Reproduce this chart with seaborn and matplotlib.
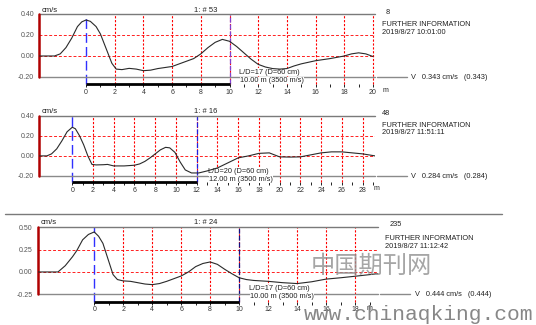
import matplotlib
matplotlib.use("Agg")
import matplotlib.pyplot as plt
from matplotlib.lines import Line2D
import seaborn as sns
import pandas as pd

# ---------------- data ----------------
p1_x = [-3.28, -2.2, -1.8, -1.4, -1.0, -0.6, -0.3, 0.0, 0.3, 0.7, 1.0, 1.4, 1.8, 2.1, 2.5, 3.0, 3.5,
        4.0, 4.5, 5.0, 5.5, 6.0, 6.5, 7.0, 7.5, 8.0, 8.5, 9.0, 9.5, 10.0, 10.5, 11.0, 11.5, 12.0,
        12.5, 13.0, 13.5, 14.0, 14.5, 15.0, 16.0, 17.0, 18.0, 18.5, 19.0, 19.5, 20.0]
p1_y = [0.0, 0.0, 0.02, 0.08, 0.17, 0.28, 0.325, 0.343, 0.33, 0.28, 0.21, 0.07, -0.07, -0.125,
        -0.13, -0.118, -0.125, -0.14, -0.135, -0.12, -0.11, -0.10, -0.075, -0.05, -0.025, 0.02,
        0.08, 0.13, 0.158, 0.14, 0.09, 0.03, -0.03, -0.08, -0.105, -0.12, -0.125, -0.12, -0.095,
        -0.075, -0.045, -0.025, 0.0, 0.02, 0.03, 0.02, -0.005]

p2_x = [-3.21, -2.45, -2.0, -1.5, -1.0, -0.5, 0.0, 0.3, 0.7, 1.1, 1.5, 1.9, 2.3, 3.0, 3.4, 4.0,
        5.0, 6.0, 6.5, 7.0, 7.5, 8.0, 8.5, 9.0, 9.4, 9.9, 10.4, 10.9, 11.5, 12.2, 13.0, 14.0,
        15.0, 16.0, 17.0, 18.0, 19.0, 19.5, 20.0, 21.0, 22.0, 23.0, 24.0, 25.0, 26.0, 27.0,
        28.0, 29.2]
p2_y = [0.0, 0.0, 0.02, 0.07, 0.15, 0.24, 0.285, 0.27, 0.20, 0.11, 0.0, -0.085, -0.09, -0.088,
        -0.085, -0.10, -0.10, -0.093, -0.08, -0.055, -0.02, 0.02, 0.06, 0.085, 0.08, 0.035,
        -0.06, -0.14, -0.17, -0.17, -0.15, -0.12, -0.07, -0.02, 0.0, 0.025, 0.03, 0.01, -0.01,
        -0.012, -0.01, 0.01, 0.03, 0.04, 0.04, 0.03, 0.02, 0.0]

p3_x = [-3.9, -2.5, -2.0, -1.5, -1.2, -0.8, -0.4, 0.0, 0.3, 0.6, 1.0, 1.3, 1.6, 2.0, 2.5, 3.0,
        3.5, 4.0, 4.5, 5.0, 5.5, 6.0, 6.5, 7.0, 7.5, 8.0, 8.5, 9.0, 9.5, 10.0, 10.5, 11.0, 12.0,
        13.0, 14.0, 15.0, 16.0, 17.0, 18.0, 19.0, 19.6]
p3_y = [0.0, 0.0, 0.07, 0.17, 0.24, 0.36, 0.42, 0.448, 0.40, 0.32, 0.12, -0.03, -0.085, -0.10,
        -0.105, -0.12, -0.135, -0.142, -0.13, -0.105, -0.075, -0.045, 0.0, 0.06, 0.095, 0.112,
        0.085, 0.03, -0.02, -0.065, -0.085, -0.095, -0.105, -0.12, -0.13, -0.11, -0.08, -0.065,
        -0.048, -0.03, -0.018]

titles = ["1: # 53", "1: # 16", "1: # 24"]
numbers = ["8", "48", "235"]
dates = ["2019/8/27 10:01:00", "2019/8/27 11:51:11", "2019/8/27 11:12:42"]
vel_texts = ["V   0.343 cm/s   (0.343)", "V   0.284 cm/s   (0.284)", "V   0.444 cm/s   (0.444)"]
ld_texts = ["L/D=17 (D=60 cm)", "L/D=20 (D=60 cm)", "L/D=17 (D=60 cm)"]
dist_texts = ["10.00 m (3500 m/s)", "12.00 m (3500 m/s)", "10.00 m (3500 m/s)"]
y_ticks = [[0.40, 0.20, 0.00, -0.20], [0.40, 0.20, 0.00, -0.20], [0.50, 0.25, 0.00, -0.25]]
y_ticklabels = [["0.40", "0.20", "0.00", "-0.20"], ["0.40", "0.20", "0.00", "-0.20"],
                ["0.50", "0.25", "0.00", "-0.25"]]
marker_pos = [10, 12, 10]
x_max_tick = [20, 28, 18]
x_minor_max = [19, 29, 19]

# ---------------- style ----------------
sns.set_style("white")
plt.rcParams['font.family'] = ['Liberation Sans', 'DejaVu Sans']

W, H = 536, 325
fig = plt.figure(figsize=(W / 100, H / 100), dpi=100)


def fx(x):
    return x / W


def fy(y):
    return 1 - y / H


def ftext(x, y, s, **kw):
    kw.setdefault('va', 'center')
    kw.setdefault('fontsize', 5.3)
    kw.setdefault('color', '#222222')
    return fig.text(fx(x), fy(y), s, **kw)


def fline(x0, x1, y, **kw):
    fig.add_artist(Line2D([fx(x0), fx(x1)], [fy(y), fy(y)], **kw))


layout = [
    dict(left=39, right=375, top=14, axis=84, xlim=(-3.28, 20.14), ylim=(-0.267, 0.40),
         marker_color='#8040d0', text_top=10, num_y=12, info_y=24, date_y=32, num_x=386,
         info_x=382, low_y=77, vx0=377, vx1=407, vtx=411, ldx=239, ld_y=72, dist_y=80.5,
         m_x=383),
    dict(left=39, right=375, top=115.7, axis=182.3, xlim=(-3.21, 29.2), ylim=(-0.263, 0.40),
         marker_color='#2020e0', text_top=111.7, num_y=114, info_y=125.7, date_y=132.3,
         num_x=382, info_x=382, low_y=176, vx0=377, vx1=407, vtx=411, ldx=208, ld_y=171.7,
         dist_y=179.3, m_x=374),
    dict(left=37.7, right=378.3, top=227.3, axis=301.7, xlim=(-3.9, 19.6), ylim=(-0.333, 0.50),
         marker_color='#101080', text_top=223, num_y=224, info_y=238, date_y=246, num_x=390,
         info_x=385, low_y=294.3, vx0=380, vx1=410, vtx=415, ldx=249, ld_y=289, dist_y=296,
         m_x=367),
]

curves = [(p1_x, p1_y), (p2_x, p2_y), (p3_x, p3_y)]

for i, (cx, cy) in enumerate(curves):
    L = layout[i]
    ax = fig.add_axes([fx(L['left']), fy(L['axis']), (L['right'] - L['left']) / W,
                       (L['axis'] - L['top']) / H])
    ax.set_xlim(*L['xlim'])
    ax.set_ylim(*L['ylim'])
    for s in ax.spines.values():
        s.set_visible(False)
    xmin, xmax = L['xlim']
    ylo, yhi = y_ticks[i][-1], y_ticks[i][0]
    ybot = L['ylim'][0]

    # grid (low zorder)
    for gy in y_ticks[i][1:3]:
        ax.plot([xmin, xmax], [gy, gy], color='#ff2020', lw=0.7, ls=(0, (3, 2)), zorder=1)
    for gx in range(2, x_max_tick[i] + 1, 2):
        ax.plot([gx, gx], [ybot, yhi], color='#ff0000', lw=0.8, ls=(0, (2, 1.5)),
                clip_on=False, zorder=1)
    ax.plot([0, 0], [ybot, yhi], color='#3030ff', lw=1.0, ls=(0, (7, 3)), clip_on=False,
            zorder=1.2)
    mp = marker_pos[i]
    ax.plot([mp, mp], [ybot, yhi], color=L['marker_color'], lw=0.9, ls=(0, (4, 1.5)),
            clip_on=False, zorder=1.2)

    # labels on white boxes, above grid but below curve/frame
    box = dict(facecolor='white', edgecolor='none', pad=0.3)
    ax.text(fx(L['ldx']), fy(L['ld_y']), ld_texts[i], transform=fig.transFigure,
            fontsize=5.3, color='#222222', va='center', bbox=box, zorder=1.5)
    ax.text(fx(L['ldx'] + 1), fy(L['dist_y']), dist_texts[i], transform=fig.transFigure,
            fontsize=5.3, color='#222222', va='center', bbox=box, zorder=1.5)

    # frame lines
    ax.plot([xmin, xmax], [yhi, yhi], color='#7a7a7a', lw=1.0, clip_on=False, zorder=3)
    ax.plot([xmin, xmax], [ylo, ylo], color='#8a8a8a', lw=1.0, clip_on=False, zorder=1.4)
    ax.plot([xmin, xmin], [ylo, yhi], color='#b00000', lw=1.8, clip_on=False, zorder=3)
    ax.plot([0, mp], [ybot, ybot], color='black', lw=2.0, clip_on=False,
            solid_capstyle='butt', zorder=3)

    df = pd.DataFrame({'x': cx, 'y': cy})
    sns.lineplot(data=df, x='x', y='y', ax=ax, color='#2a2a2a', lw=0.8, sort=False,
                 estimator=None, zorder=4)
    ax.set_xlabel('')
    ax.set_ylabel('')

    ax.set_xticks(list(range(0, x_max_tick[i] + 1, 2)))
    ax.set_xticklabels([str(v) for v in range(0, x_max_tick[i] + 1, 2)])
    ax.set_xticks(list(range(1, x_minor_max[i] + 1, 2)), minor=True)
    ax.tick_params(axis='x', which='both', bottom=True, length=2.2, width=0.7, pad=1.2,
                   labelsize=5, labelcolor='#333333', color='#222222', direction='out')
    ax.set_yticks(y_ticks[i])
    ax.set_yticklabels(y_ticklabels[i])
    ax.tick_params(axis='y', length=0, pad=3.5, labelsize=5, labelcolor='#555555')
    ax.grid(False)
    ax.patch.set_alpha(0)

    ftext(L['left'] + 3, L['text_top'], "cm/s", fontsize=5.5)
    ftext(206, L['text_top'], titles[i], fontsize=5.5, ha='center')
    ftext(L['num_x'], L['num_y'], numbers[i])
    ftext(L['info_x'], L['info_y'], "FURTHER INFORMATION")
    ftext(L['info_x'], L['date_y'], dates[i])
    fline(L['vx0'], L['vx1'], L['low_y'], color='#8a8a8a', lw=1.0)
    ftext(L['vtx'], L['low_y'] + 0.5, vel_texts[i])
    ftext(L['m_x'], L['axis'] + 6.5, "m", fontsize=5)

fline(5, 502, 214.3, color='#7a7a7a', lw=1.0)

fig.text(fx(371), fy(266), "中国期刊网", fontsize=17.5, family=['Noto Sans CJK SC', 'DejaVu Sans'],
         color='#909090', alpha=0.8, ha='center', va='center', fontweight='light')
fig.text(fx(304), fy(314), "www.chinaqking.com", fontsize=15.3, family=['Liberation Mono'],
         color='#7a7a7a', alpha=0.9, ha='left', va='center')

fig.savefig("out.png", dpi=100)
